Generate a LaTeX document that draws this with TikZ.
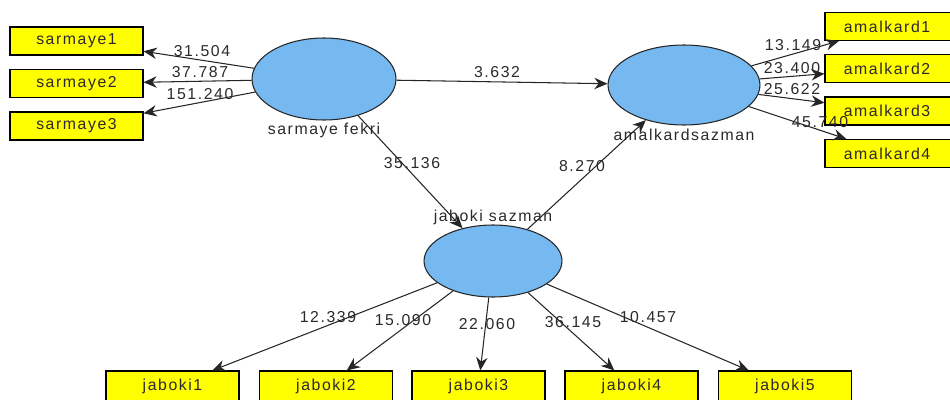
\documentclass[tikz,border=0pt]{standalone}
\usepackage{fontspec}
\setmainfont{Liberation Sans}
\newfontfamily\lbl[LetterSpace=10]{Liberation Sans}
\usetikzlibrary{arrows.meta,shapes.geometric}
\definecolor{lv}{RGB}{118,184,240}
\definecolor{ty}{RGB}{45,40,45}
\definecolor{yb}{RGB}{255,255,0}
\begin{document}
\begin{tikzpicture}[x=0.02cm,y=-0.02cm,
  box/.style={draw=black, fill=yb, line width=0.6pt, minimum width=2.66cm, minimum height=0.56cm, inner sep=0pt, text=ty, font=\lbl\fontsize{9}{10}\selectfont},
  lat/.style={ellipse, draw=black!85, fill=lv, line width=0.6pt, inner sep=0pt},
  arr/.style={draw=black!85, line width=0.6pt, -{Stealth[length=7.5pt,width=6.5pt]}},
  num/.style={inner sep=0pt, text=ty, font=\lbl\fontsize{9}{10}\selectfont},
  lattext/.style={inner sep=0pt, text=ty, font=\lbl\fontsize{9}{10}\selectfont}]
\useasboundingbox (0,0) rectangle (950,399);
% boxes
\node[box] (s1) at (76.5,41) {sarmaye1};
\node[box] (s2) at (76.5,83.5) {sarmaye2};
\node[box] (s3) at (76.5,126) {sarmaye3};
\node[box, minimum width=2.6cm] (a1) at (890,26.5) {};
\node[box, minimum width=2.6cm] (a2) at (890,68.5) {};
\node[box, minimum width=2.6cm] (a3) at (890,111) {};
\node[box, minimum width=2.6cm] (a4) at (890,153.5) {};
\node[lattext] (a1t) at (887,26.5) {amalkard1};
\node[lattext] (a2t) at (887,68.5) {amalkard2};
\node[lattext] (a3t) at (887,111) {amalkard3};
\node[lattext] (a4t) at (887,153.5) {amalkard4};
\node[box, minimum height=0.6cm] (j1) at (172.5,386) {jaboki1};
\node[box, minimum height=0.6cm] (j2) at (326,386) {jaboki2};
\node[box, minimum height=0.6cm] (j3) at (478.5,386) {jaboki3};
\node[box, minimum height=0.6cm] (j4) at (631.5,386) {jaboki4};
\node[box, minimum height=0.6cm] (j5) at (785,386) {jaboki5};
% latent variables
\node[lat, minimum width=2.88cm, minimum height=1.64cm] (sf) at (324,79) {};
\node[lat, minimum width=3.04cm, minimum height=1.6cm] (as) at (684,85) {};
\node[lat, minimum width=2.76cm, minimum height=1.44cm] (js) at (493,261) {};
\node[lattext] (sft) at (324,130) {sarmaye fekri};
\node[lattext] (ast) at (684,135) {amalkardsazman};
\node[lattext] (jst) at (493,217) {jaboki sazman};
% arrows
\draw[arr] (sf) -- (s1);
\draw[arr] (sf) -- (s2);
\draw[arr] (sf) -- (s3);
\draw[arr] (as) -- (a1);
\draw[arr] (as) -- (a2);
\draw[arr] (as) -- (a3);
\draw[arr] (as) -- (a4);
\draw[arr] (sf) -- (as);
\draw[arr] (sf) -- (js);
\draw[arr] (js) -- (as);
\draw[arr] (js) -- (j1);
\draw[arr] (js) -- (j2);
\draw[arr] (js) -- (j3);
\draw[arr] (js) -- (j4);
\draw[arr] (js) -- (j5);
% numbers
\node[num] (n1) at (202,51) {31.504};
\node[num] (n2) at (200,72) {37.787};
\node[num] (n3) at (200,94) {151.240};
\node[num] (n4) at (497,72) {3.632};
\node[num] (n5) at (412,163) {35.136};
\node[num] (n6) at (582,166) {8.270};
\node[num] (n7) at (793,45) {13.149};
\node[num] (n8) at (792,68) {23.400};
\node[num] (n9) at (792,89) {25.622};
\node[num] (n10) at (820,122) {45.740};
\node[num] (n11) at (328,317) {12.339};
\node[num] (n12) at (403,320) {15.090};
\node[num] (n13) at (487,324) {22.060};
\node[num] (n14) at (573,322) {36.145};
\node[num] (n15) at (648,317) {10.457};
\end{tikzpicture}
\end{document}
